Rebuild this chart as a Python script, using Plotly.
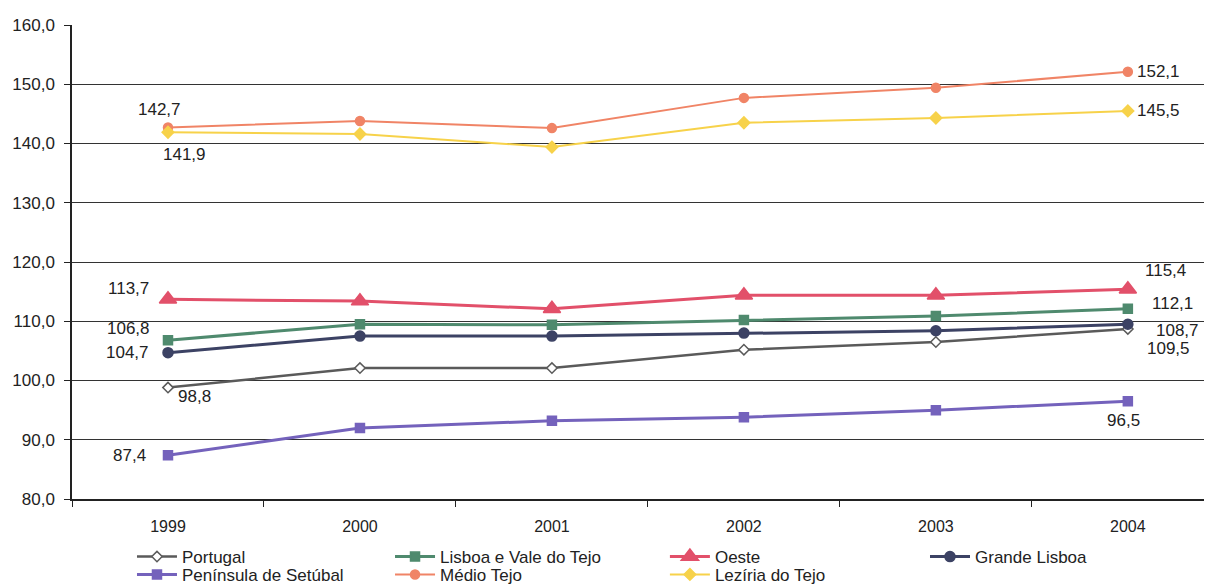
import plotly.graph_objects as go

years = ["1999", "2000", "2001", "2002", "2003", "2004"]
names = ["Portugal", "Lisboa e Vale do Tejo", "Oeste", "Grande Lisboa",
         "Península de Setúbal", "Médio Tejo", "Lezíria do Tejo"]
portugal = [98.8, 102.1, 102.1, 105.2, 106.5, 108.7]
lisboa_vt = [106.8, 109.5, 109.4, 110.2, 110.9, 112.1]
oeste = [113.7, 113.4, 112.1, 114.4, 114.4, 115.4]
grande_lisboa = [104.7, 107.5, 107.5, 108.0, 108.4, 109.5]
setubal = [87.4, 92.0, 93.2, 93.8, 95.0, 96.5]
medio_tejo = [142.7, 143.8, 142.6, 147.7, 149.4, 152.1]
leziria = [141.9, 141.6, 139.4, 143.5, 144.3, 145.5]
series = [portugal, lisboa_vt, oeste, grande_lisboa, setubal, medio_tejo, leziria]

styles = [
    dict(color="#5a5a5a", symbol="diamond", size=8, fill="#ffffff", width=2.5),
    dict(color="#4f8a6e", symbol="square", size=9, fill="#4f8a6e", width=3),
    dict(color="#e2506a", symbol="triangle-up", size=15, fill="#e2506a", width=3),
    dict(color="#3c4264", symbol="circle", size=10, fill="#3c4264", width=3),
    dict(color="#7462bc", symbol="square", size=9, fill="#7462bc", width=3),
    dict(color="#f08466", symbol="circle", size=9, fill="#f08466", width=2),
    dict(color="#f7d24a", symbol="diamond", size=9, fill="#f7d24a", width=2),
]
# legend entry placement (container fractions): x of entry, y of row centre
legend_pos = [(0.1023, 0.0615), (0.3152, 0.0615), (0.542, 0.0615), (0.7566, 0.0615),
              (0.1023, 0.031), (0.3152, 0.031), (0.542, 0.031)]

fig = go.Figure()
legend_layout = {}
for i, (nm, vals, st, pos) in enumerate(zip(names, series, styles, legend_pos)):
    key = "legend" if i == 0 else f"legend{i + 1}"
    fig.add_trace(go.Scatter(
        x=years, y=vals, name=nm, mode="lines+markers", legend=key,
        line=dict(color=st["color"], width=st["width"]),
        marker=dict(symbol=st["symbol"], size=st["size"], color=st["fill"],
                    line=dict(color=st["color"], width=1.5)),
    ))
    legend_layout[key] = dict(
        orientation="h", xanchor="left", yanchor="middle",
        xref="container", yref="container", x=pos[0], y=pos[1],
        itemwidth=40, font=dict(family="Liberation Sans, Arial", size=17),
        bgcolor="rgba(0,0,0,0)")

# (series index, year index, xshift, yshift)
label_spots = [
    (5, 0, -8, 18), (6, 0, 17, -22), (5, 5, 31, 0), (6, 5, 31, 0),
    (2, 0, -39, 11), (1, 0, -39, 12), (3, 0, -40, 0), (0, 0, 27, -9),
    (4, 0, -38, 0), (2, 5, 38, 19), (1, 5, 45, 5), (0, 5, 50, -2),
    (3, 5, 41, -24), (4, 5, -4, -19),
]
annotations = []
for si, yi, dx, dy in label_spots:
    v = series[si][yi]
    annotations.append(dict(
        x=yi, y=v, xref="x", yref="y",
        text=f"{v:.1f}".replace(".", ","),
        showarrow=False, xshift=dx, yshift=dy,
        font=dict(size=17, color="#222222")))

fig.update_layout(
    width=1212, height=585,
    paper_bgcolor="white", plot_bgcolor="white",
    margin=dict(l=64, r=0, t=17, b=94, autoexpand=False),
    separators=",.",
    font=dict(family="Liberation Sans, Arial, sans-serif", size=14, color="#222222"),
    showlegend=True,
    annotations=annotations,
    **legend_layout,
)
fig.update_xaxes(type="category", range=[-0.5, 5.48], tickson="boundaries",
                 ticks="outside", ticklen=6, tickcolor="#222222", automargin=False,
                 ticklabelstandoff=12,
                 showline=True, linecolor="#222222", linewidth=1.5,
                 showgrid=False, tickfont=dict(size=16))
fig.update_yaxes(range=[80, 160], dtick=10, tickformat=".1f", automargin=False,
                 ticks="outside", ticklen=6, tickcolor="#222222",
                 ticklabelstandoff=6,
                 showline=True, linecolor="#222222", linewidth=1.5,
                 showgrid=True, gridcolor="#333333", gridwidth=1,
                 zeroline=False, tickfont=dict(size=17))

fig.write_html("out.html")
